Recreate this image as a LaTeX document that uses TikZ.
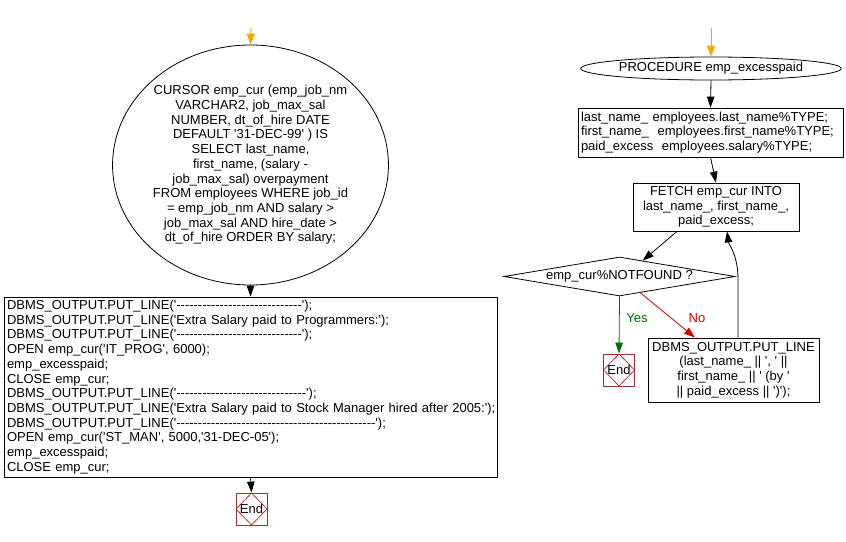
\documentclass[tikz,border=0pt]{standalone}
\usepackage{fontspec}
\setmainfont{Liberation Sans}[Ligatures=TeXOff]
\usetikzlibrary{shapes.geometric,arrows.meta,calc}
\definecolor{startor}{RGB}{255,165,0}
\definecolor{endbr}{RGB}{153,51,51}
\definecolor{endrd}{RGB}{204,0,0}
\definecolor{yesgr}{RGB}{0,110,0}
\definecolor{nord}{RGB}{210,0,0}
\begin{document}
\begin{tikzpicture}[x=1pt,y=-1pt,
  every node/.style={font=\fontsize{13}{14.7}\selectfont},
  box/.style={draw,line width=0.8pt,inner sep=0pt},
  ell/.style={draw,line width=0.8pt,ellipse,inner sep=0pt},
  arr/.style={line width=0.8pt,-{Triangle[length=11pt,width=7.5pt]}},
  startarr/.style={startor,line width=1pt,-{Triangle[length=11pt,width=8pt]}},
  endbox/.style={draw=endbr,line width=0.8pt,minimum width=31pt,minimum height=32pt,inner sep=0pt,
    path picture={\draw[endrd,line width=0.6pt] (path picture bounding box.north) -- (path picture bounding box.east) -- (path picture bounding box.south) -- (path picture bounding box.west) -- cycle;}},
  lbl/.style={font=\fontsize{13}{14}\selectfont}]
\useasboundingbox (0,0) rectangle (846,541);

% left column
\coordinate (s1) at (251,28);
\node[ell,minimum width=275pt,minimum height=240pt,align=center] (cur) at (250.5,165)
 {CURSOR emp\_cur (emp\_job\_nm\\VARCHAR2, job\_max\_sal\\NUMBER, dt\_of\_hire DATE\\DEFAULT '31-DEC-99' ) IS\\SELECT last\_name,\\first\_name, (salary -\\job\_max\_sal) overpayment\\FROM employees WHERE job\_id\\= emp\_job\_nm AND salary >\\job\_max\_sal AND hire\_date >\\dt\_of\_hire ORDER BY salary;};
\node[box,minimum width=493pt,minimum height=180pt,text width=487pt,align=left] (main) at (250.5,387)
 {DBMS\_OUTPUT.PUT\_LINE('-----------------------------');\\
DBMS\_OUTPUT.PUT\_LINE('Extra Salary paid to Programmers:');\\
DBMS\_OUTPUT.PUT\_LINE('-----------------------------');\\
OPEN emp\_cur('IT\_PROG', 6000);\\
emp\_excesspaid;\\
CLOSE emp\_cur;\\
DBMS\_OUTPUT.PUT\_LINE('------------------------------');\\
\mbox{DBMS\_OUTPUT.PUT\_LINE('Extra Salary paid to Stock Manager hired after 2005:');}\\
DBMS\_OUTPUT.PUT\_LINE('----------------------------------------------');\\
OPEN emp\_cur('ST\_MAN', 5000,'31-DEC-05');\\
emp\_excesspaid;\\
CLOSE emp\_cur;};
\node[endbox] (end1) at (251.5,509) {End};

\draw[startarr] (s1) -- (cur.north);
\draw[arr] (cur.south) -- (main.north);
\draw[arr] (main.south) -- (end1.north);

% right column
\coordinate (s2) at (711,28);
\node[ell,minimum width=204pt,minimum height=23pt] (proc) at (711,68.5) {PROCEDURE emp\_excesspaid};
\node[box,minimum width=265pt,minimum height=49pt,text width=259pt,align=left] (decl) at (710.5,132.5)
 {last\_name\_ employees.last\_name\%TYPE;\\
first\_name\_~~employees.first\_name\%TYPE;\\
paid\_excess~~employees.salary\%TYPE;};
\node[box,minimum width=166pt,minimum height=48pt,align=center] (fetch) at (716,207)
 {FETCH emp\_cur INTO\\last\_name\_, first\_name\_,\\paid\_excess;};
\node[draw,line width=0.8pt,diamond,aspect=5.9,minimum width=231pt,minimum height=39pt,inner sep=0pt] (dia) at (619.5,276.5) {emp\_cur\%NOTFOUND ?};
\node[endbox] (end2) at (619,370) {End};
\node[box,minimum width=171pt,minimum height=64pt,align=center] (out) at (733.5,370)
 {DBMS\_OUTPUT.PUT\_LINE\\(last\_name\_ || ', ' ||\\first\_name\_ || ' (by '\\|| paid\_excess || ')');};

\draw[startarr] (s2) -- (proc.north);
\draw[arr] (proc.south) -- (decl.north);
\draw[arr] (decl.south) -- (fetch.north);
\draw[arr] ($(fetch.south)+(-39,0)$) -- ($(dia.north)!0.2!(dia.east)$);
\draw[arr,yesgr] (dia.south) -- (end2.north);
\node[lbl,text=yesgr] (yes) at (637,318) {Yes};
\draw[arr,nord] ($(dia.south)!0.18!(dia.east)$) -- ($(out.north)+(-38.5,0)$);
\node[lbl,text=nord] (no) at (697,318) {No};
\draw[arr] ($(out.north)+(4.5,0)$) -- ++(0,-58) .. controls +(0,-25) and +(2,14) .. ($(fetch.south)+(11,0)$);
\end{tikzpicture}
\end{document}
